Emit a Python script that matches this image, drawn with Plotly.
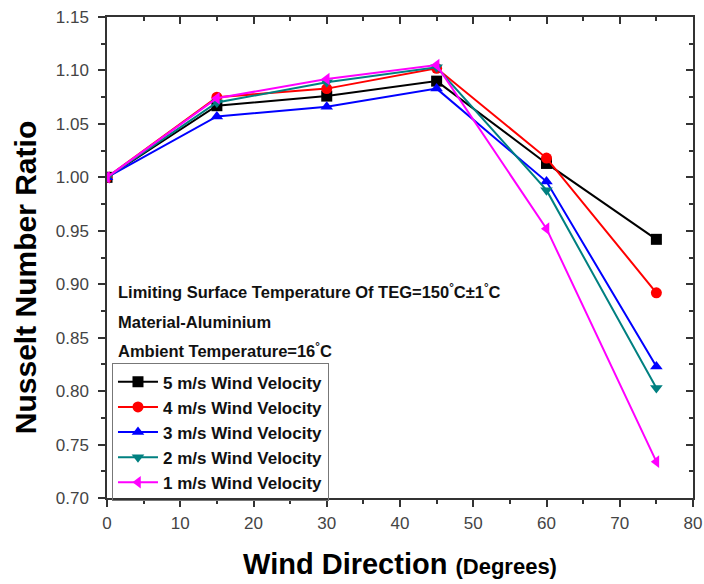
import plotly.graph_objects as go

directions = [0, 15, 30, 45, 60, 75]
v5 = [1.000, 1.067, 1.076, 1.090, 1.013, 0.942]
v4 = [1.000, 1.075, 1.083, 1.102, 1.018, 0.892]
v3 = [1.000, 1.057, 1.066, 1.083, 0.996, 0.823]
v2 = [1.000, 1.070, 1.089, 1.103, 0.988, 0.803]
v1 = [1.000, 1.074, 1.092, 1.105, 0.952, 0.734]

series = [
    ("5 m/s Wind Velocity", v5, "#000000", "square"),
    ("4 m/s Wind Velocity", v4, "#ff0000", "circle"),
    ("3 m/s Wind Velocity", v3, "#0000ff", "triangle-up"),
    ("2 m/s Wind Velocity", v2, "#008080", "triangle-down"),
    ("1 m/s Wind Velocity", v1, "#ff00ff", "triangle-left"),
]

FONT = "Liberation Sans"
fig = go.Figure()
for name, vals, col, sym in series:
    fig.add_trace(go.Scatter(
        x=directions, y=vals, name="<b>" + name + "</b>", mode="lines+markers",
        line=dict(color=col, width=2),
        marker=dict(symbol=sym, size=11, color=col),
    ))

# invisible trace for the mirrored (inside-tick) top/right axes
fig.add_trace(go.Scatter(x=[0], y=[1.0], xaxis="x2", yaxis="y2", mode="markers",
                         marker=dict(opacity=0), showlegend=False, hoverinfo="skip"))

tickfont = dict(family=FONT, size=17, color="#444444")
fig.update_layout(
    template="none",
    width=704, height=584,
    margin=dict(l=107, r=11, t=17, b=86),
    paper_bgcolor="white", plot_bgcolor="white",
    font=dict(family=FONT, color="#000"),
    xaxis=dict(
        automargin=False,
        range=[0, 80], dtick=10, tick0=0, ticks="outside", ticklen=7, tickwidth=1.5,
        tickcolor="#333", showline=True, linecolor="#333", linewidth=1.5,
        showgrid=False, zeroline=False, tickfont=tickfont, ticklabelstandoff=2,
        minor=dict(ticks="outside", dtick=5, ticklen=4, tickcolor="#333", showgrid=False),
        title=dict(text="<b>Wind Direction</b> <b><span style='font-size:22px'>(Degrees)</span></b>",
                   font=dict(family=FONT, size=29, color="#000"), standoff=22),
    ),
    yaxis=dict(
        automargin=False,
        range=[0.70, 1.15], dtick=0.05, tick0=0.70, tickformat=".2f",
        ticks="outside", ticklen=7, tickwidth=1.5, tickcolor="#333",
        showline=True, linecolor="#333", linewidth=1.5,
        showgrid=False, zeroline=False, tickfont=tickfont, ticklabelstandoff=6,
        minor=dict(ticks="outside", dtick=0.025, ticklen=4, tickcolor="#333", showgrid=False),
    ),
    xaxis2=dict(
        automargin=False,
        overlaying="x", side="top", anchor="y2", range=[0, 80], dtick=10, tick0=0,
        ticks="inside", ticklen=7, tickwidth=1.5, tickcolor="#333",
        showline=True, linecolor="#333", linewidth=1.5, showticklabels=False,
        showgrid=False, zeroline=False,
        minor=dict(ticks="inside", dtick=5, ticklen=4, tickcolor="#333", showgrid=False),
    ),
    yaxis2=dict(
        automargin=False,
        overlaying="y", side="right", anchor="x2", range=[0.70, 1.15], dtick=0.05, tick0=0.70,
        ticks="inside", ticklen=7, tickwidth=1.5, tickcolor="#333",
        showline=True, linecolor="#333", linewidth=1.5, showticklabels=False,
        showgrid=False, zeroline=False,
        minor=dict(ticks="inside", dtick=0.025, ticklen=4, tickcolor="#333", showgrid=False),
    ),
    legend=dict(
        x=0.0085, y=0.28, xanchor="left", yanchor="top",
        bgcolor="rgba(255,255,255,0)", bordercolor="#777", borderwidth=1,
        font=dict(family=FONT, size=17, color="#111"),
        tracegroupgap=0, itemwidth=40,
    ),
    showlegend=True,
)

# y-axis title as an annotation so it can sit where the reference puts it
fig.add_annotation(text="<b>Nusselt Number Ratio</b>", textangle=-90,
                   x=0, xref="paper", xanchor="center", xshift=-82,
                   y=0.457, yref="paper", yanchor="middle", showarrow=False,
                   font=dict(family=FONT, size=30, color="#000"))

notes = [
    ("<b>Limiting Surface Temperature Of TEG=150<sup>°</sup>C±1<sup>°</sup>C</b>", 0.894),
    ("<b>Material-Aluminium</b>", 0.865),
    ("<b>Ambient Temperature=16<sup>°</sup>C</b>", 0.838),
]
for txt, yv in notes:
    fig.add_annotation(text=txt, x=1.2, y=yv, xref="x", yref="y", xanchor="left",
                       yanchor="middle", showarrow=False,
                       font=dict(family=FONT, size=16.5, color="#111"))

fig.write_html("out.html")
